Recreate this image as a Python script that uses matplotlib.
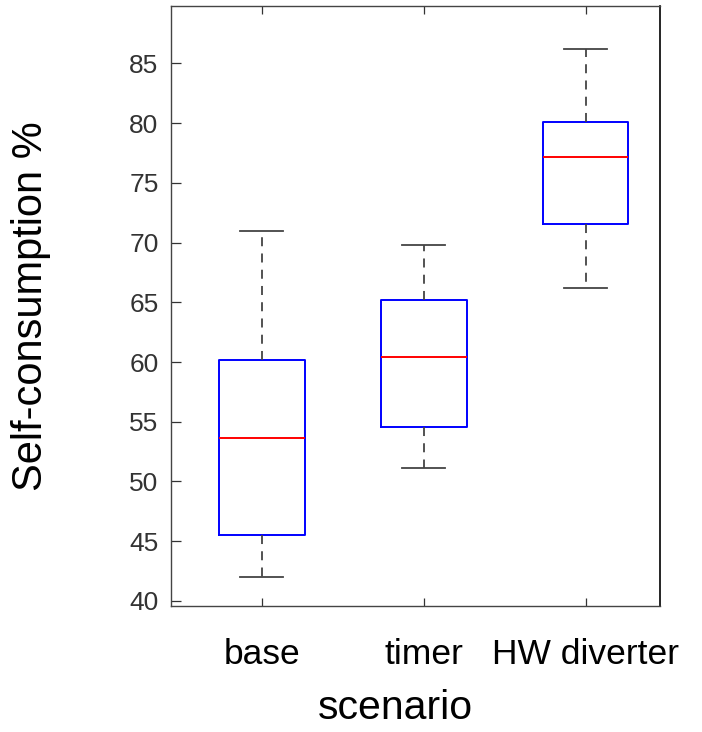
import matplotlib
matplotlib.use("Agg")
import matplotlib.pyplot as plt

# values
scenarios = ["base", "timer", "HW diverter"]
whisker_low = [42.0, 51.1, 66.2]
q1 = [45.5, 54.55, 71.55]
medians = [53.65, 60.4, 77.2]
q3 = [60.15, 65.2, 80.08]
whisker_high = [71.0, 69.77, 86.2]

plt.rcParams["font.family"] = ["Liberation Sans", "DejaVu Sans"]

stats = []
for i, name in enumerate(scenarios):
    stats.append({
        "label": name,
        "whislo": whisker_low[i],
        "q1": q1[i],
        "med": medians[i],
        "q3": q3[i],
        "whishi": whisker_high[i],
        "fliers": [],
    })

fig = plt.figure(figsize=(7.02, 7.32), dpi=100)
ax = fig.add_axes([0.2436, 0.1725, 0.6966, 0.8193])

ax.bxp(
    stats,
    positions=[1, 2, 3],
    widths=0.53,
    showfliers=False,
    boxprops=dict(color="#0000ff", linewidth=1.4),
    medianprops=dict(color="#ff0000", linewidth=1.4),
    whiskerprops=dict(color="#444444", linewidth=1.3, linestyle=(0, (5, 4))),
    capprops=dict(color="#444444", linewidth=1.3),
)

ax.set_xlim(0.44, 3.46)
ax.set_ylim(39.6, 89.8)
ax.set_yticks([40, 45, 50, 55, 60, 65, 70, 75, 80, 85])
ax.set_xticks([1, 2, 3])
ax.set_xticklabels(scenarios)

ax.tick_params(axis="y", direction="in", length=7, width=0.9, color="#333333",
               labelsize=19, labelcolor="#333333", pad=9)
ax.tick_params(axis="x", direction="in", length=6, width=0.9, color="#333333",
               labelsize=25.5, labelcolor="black", pad=23, top=True)
ax.tick_params(axis="y", right=False)

for side in ["left", "bottom", "top"]:
    ax.spines[side].set_color("#444444")
    ax.spines[side].set_linewidth(1.0)
ax.spines["right"].set_color("black")
ax.spines["right"].set_linewidth(1.2)

ax.set_xlabel("scenario", fontsize=29.5, labelpad=13)
ax.xaxis.label.set_x(0.458)
ax.set_ylabel("Self-consumption %", fontsize=30, labelpad=56)

fig.savefig("out.png", dpi=100)
